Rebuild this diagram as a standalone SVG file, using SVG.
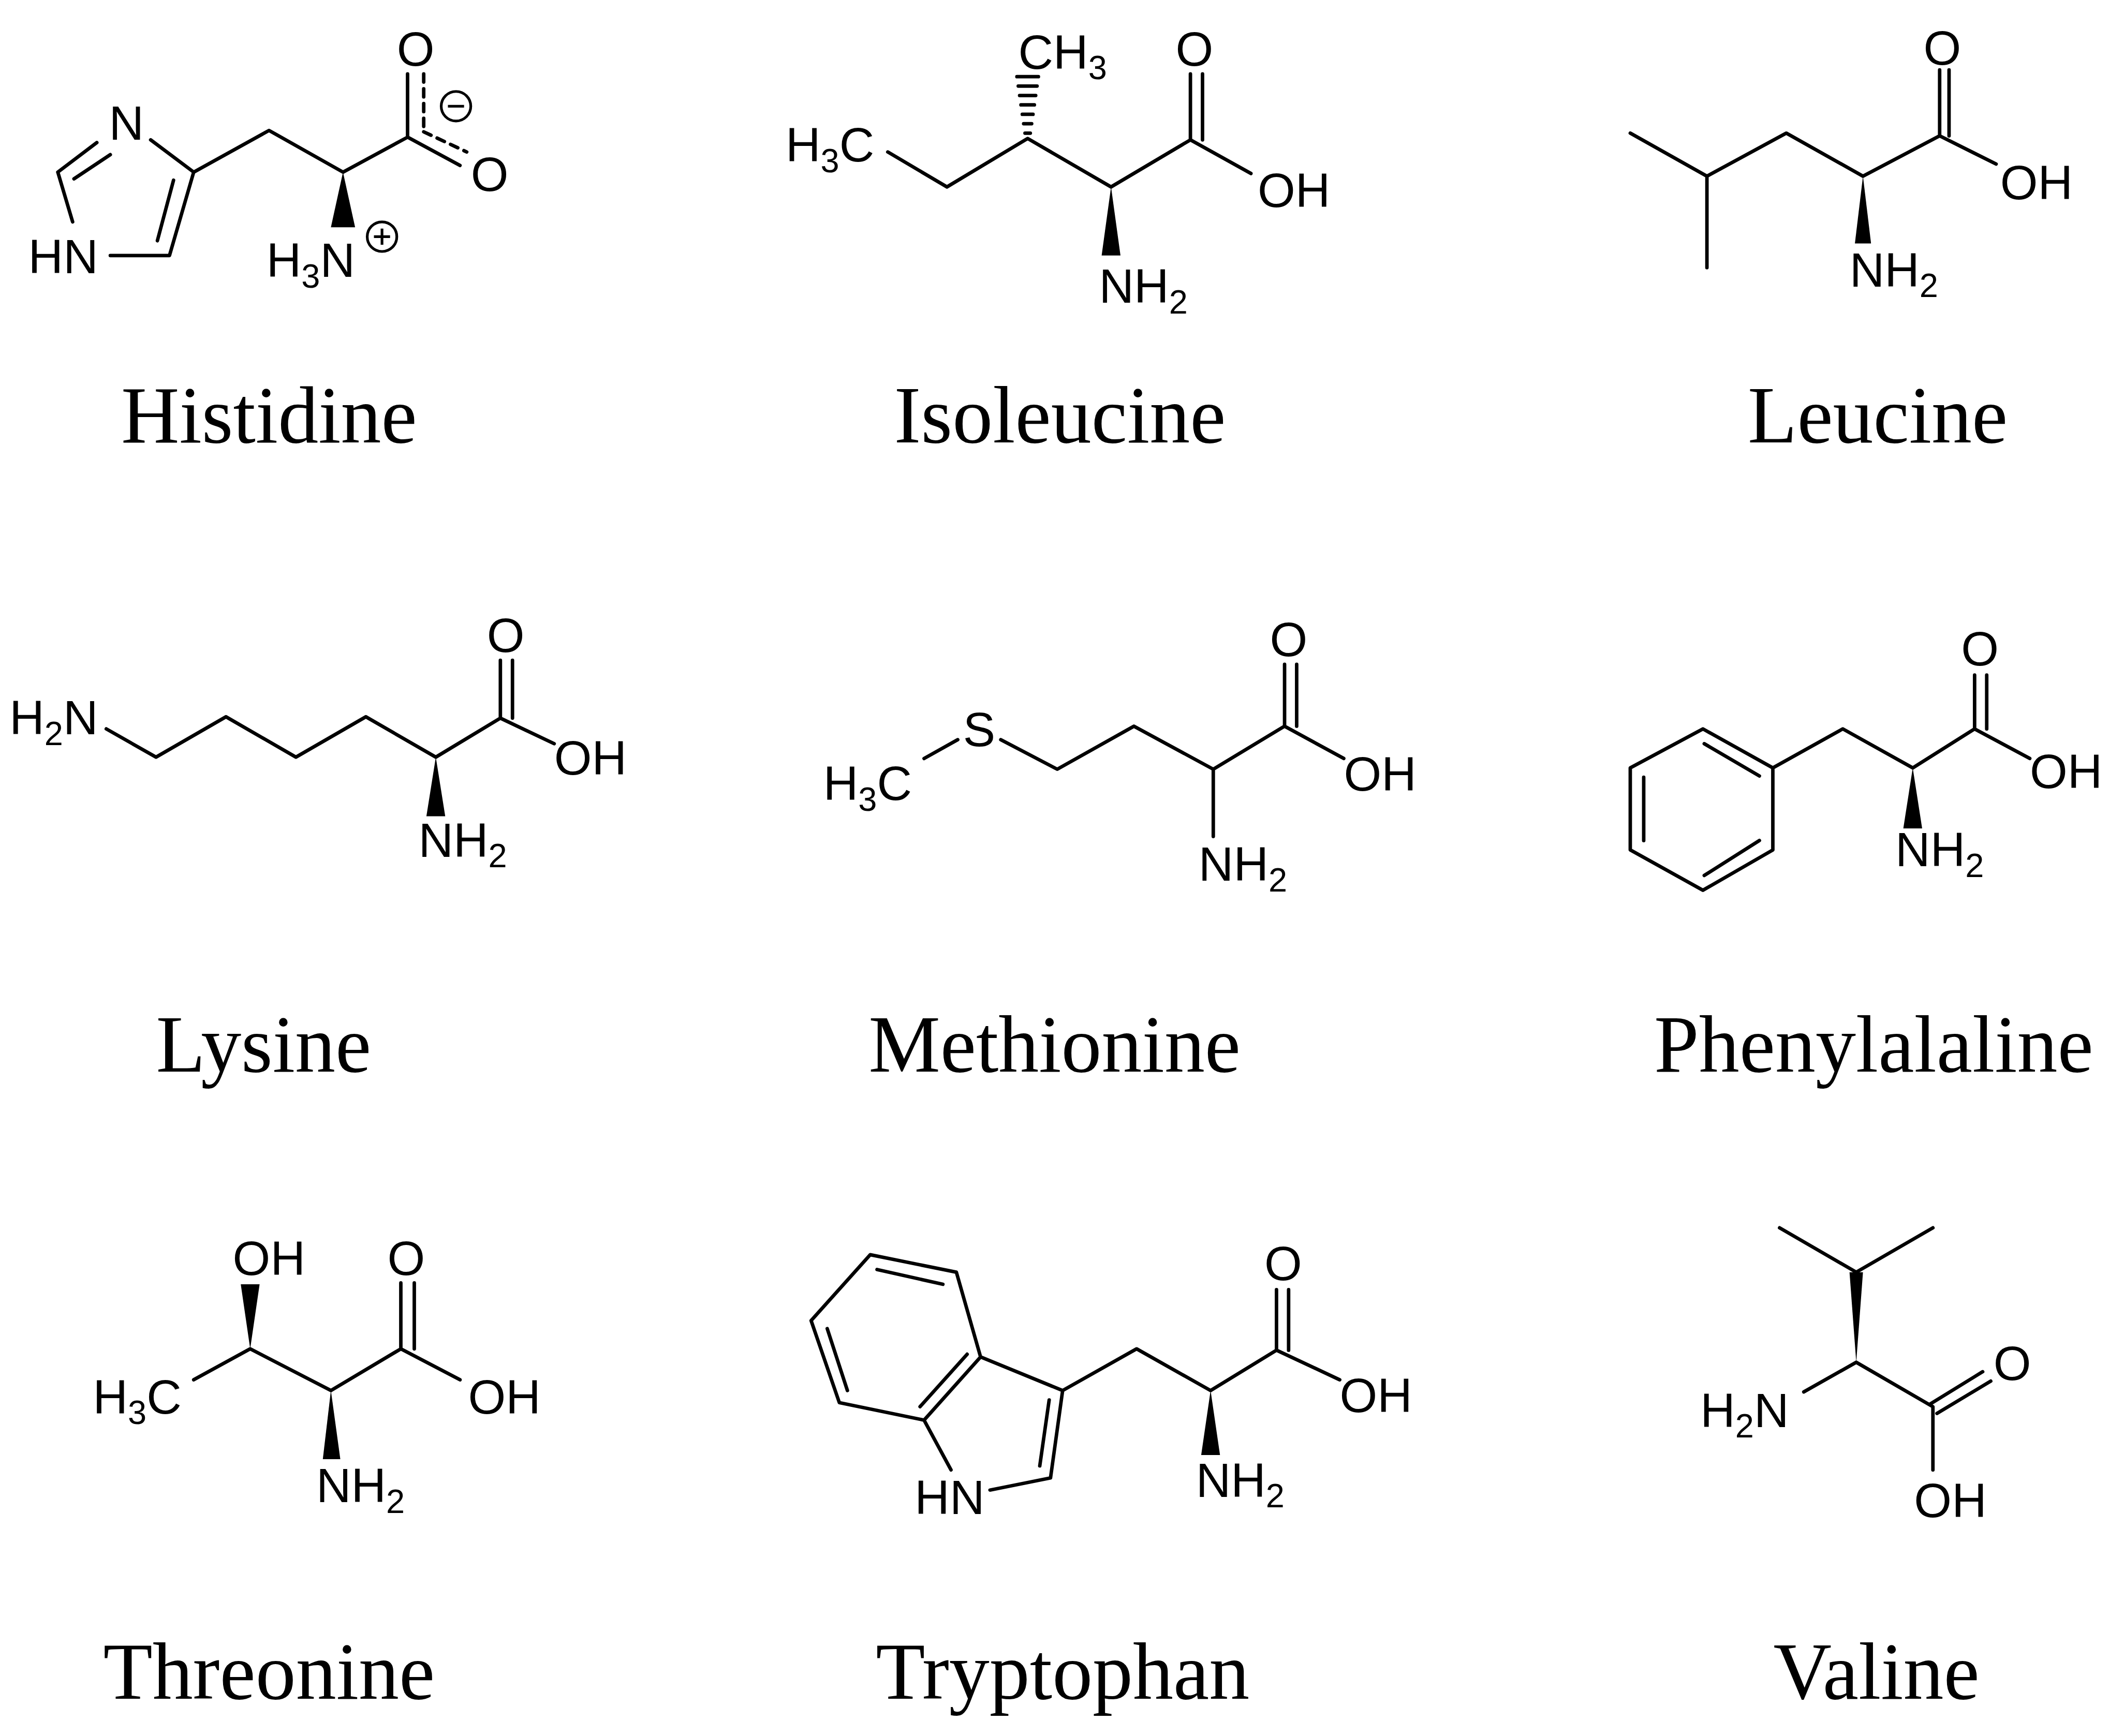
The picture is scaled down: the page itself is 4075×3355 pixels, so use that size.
<svg xmlns="http://www.w3.org/2000/svg" width="4075" height="3355" viewBox="0 0 4075 3355">
<style>
.b{stroke:#000;stroke-width:2.6;fill:none;stroke-linecap:round;stroke-linejoin:round}
.w{fill:#000;stroke:none}
.a{font-family:"Liberation Sans",Arial,sans-serif;font-size:36px;fill:#000;text-anchor:middle}
.s{font-size:25px}
.n{font-family:"Liberation Serif","Times New Roman",serif;font-size:60px;fill:#000;text-anchor:middle}
.c{stroke:#000;stroke-width:2;fill:none}
</style>
<rect width="4075" height="3355" fill="#fff"/>
<g transform="scale(2.599)">
<g id="histidine">
<g class="connectors">
<path class="b" d="M82,115 L55,133 M43,128 L54,165 M82,190 L126,190 L144,128 L112,104 M72,106 L43,128 M129,134 L117,179 M144,128 L200,97 L255,128 L303,102 L303,55 M303,102 L342,123"/>
<path class="b" d="M315,55 L315,98 M315,98 L347,113" stroke-dasharray="6,5"/>
<polygon class="w" points="255,128 246,169 264,169"/>
</g>
<text class="a" x="94" y="104">N</text>
<text class="a" x="47" y="203">HN</text>
<text class="a" x="231" y="206">H<tspan class="s" dy="8">3</tspan><tspan dy="-8">N</tspan></text>
<circle class="c" cx="284" cy="176" r="11"/><path class="c" d="M278,176 H290 M284,170 V182"/>
<circle class="c" cx="339" cy="79" r="11"/><path class="c" d="M333,79 H345"/>
<text class="a" x="309" y="49">O</text>
<text class="a" x="364" y="142">O</text>
<text class="n" x="200" y="329">Histidine</text>
</g>
<g id="isoleucine">
<g class="connectors">
<path class="b" d="M660,113 L704,139 L764,103 L826,139 L885,104 L885,55 M894,104 L894,55 M885,104 L930,129"/>
<polygon class="w" points="826,139 819,190 833,190"/>
<path class="b" d="M762,99 H766 M761,92 H767 M760,85 H768 M759,78 H769 M758,71 H770 M757,64 H771 M756,57 H772"/>
</g>
<text class="a" x="617" y="120">H<tspan class="s" dy="8">3</tspan><tspan dy="-8">C</tspan></text>
<text class="a" x="790" y="51">CH<tspan class="s" dy="8">3</tspan></text>
<text class="a" x="888" y="49">O</text>
<text class="a" x="962" y="154">OH</text>
<text class="a" x="850" y="225">NH<tspan class="s" dy="8">2</tspan></text>
<text class="n" x="788" y="329">Isoleucine</text>
</g>
<g id="leucine">
<g class="connectors">
<path class="b" d="M1212,99 L1269,131 L1269,199 M1269,131 L1328,99 L1385,131 L1442,101 L1442,52 M1449,101 L1449,52 M1442,101 L1484,122"/>
<polygon class="w" points="1385,131 1379,181 1391,181"/>
</g>
<text class="a" x="1444" y="48">O</text>
<text class="a" x="1514" y="148">OH</text>
<text class="a" x="1408" y="213">NH<tspan class="s" dy="8">2</tspan></text>
<text class="n" x="1396" y="329">Leucine</text>
</g>
<g id="lysine">
<g class="connectors">
<path class="b" d="M79,542 L116,563 L168,533 L220,563 L272,533 L324,563 L372,534 L372,491 M381,534 L381,491 M372,534 L412,553"/>
<polygon class="w" points="324,563 317,607 331,607"/>
</g>
<text class="a" x="40" y="546">H<tspan class="s" dy="8">2</tspan><tspan dy="-8">N</tspan></text>
<text class="a" x="376" y="485">O</text>
<text class="a" x="439" y="576">OH</text>
<text class="a" x="344" y="637">NH<tspan class="s" dy="8">2</tspan></text>
<text class="n" x="196" y="797">Lysine</text>
</g>
<g id="methionine">
<g class="connectors">
<path class="b" d="M687,564 L712,550 M744,550 L786,572 L843,540 L902,572 L955,540 L955,494 M964,540 L964,494 M955,540 L999,564 M902,572 L902,622"/>
</g>
<text class="a" x="645" y="595">H<tspan class="s" dy="8">3</tspan><tspan dy="-8">C</tspan></text>
<text class="a" x="728" y="555">S</text>
<text class="a" x="958" y="488">O</text>
<text class="a" x="1026" y="588">OH</text>
<text class="a" x="924" y="655">NH<tspan class="s" dy="8">2</tspan></text>
<text class="n" x="784" y="797">Methionine</text>
</g>
<g id="phenylalanine">
<g class="connectors">
<path class="b" d="M1266,542 L1318,571 L1318,632 L1266,662 L1212,632 L1212,571 Z M1267,553 L1308,577 M1222,578 L1222,625 M1267,651 L1308,625 M1318,571 L1370,542 L1422,571 L1468,542 L1468,502 M1477,542 L1477,502 M1468,542 L1509,564"/>
<polygon class="w" points="1422,571 1415,616 1429,616"/>
</g>
<text class="a" x="1472" y="495">O</text>
<text class="a" x="1536" y="586">OH</text>
<text class="a" x="1442" y="644">NH<tspan class="s" dy="8">2</tspan></text>
<text class="n" x="1393" y="797">Phenylalaline</text>
</g>
<g id="threonine">
<g class="connectors">
<path class="b" d="M144,1026 L186,1003 L246,1034 L298,1003 L298,954 M308,1003 L308,954 M298,1003 L342,1026"/>
<polygon class="w" points="186,1003 179,955 193,955"/>
<polygon class="w" points="246,1034 240,1085 253,1085"/>
</g>
<text class="a" x="200" y="948">OH</text>
<text class="a" x="102" y="1051">H<tspan class="s" dy="8">3</tspan><tspan dy="-8">C</tspan></text>
<text class="a" x="302" y="948">O</text>
<text class="a" x="375" y="1051">OH</text>
<text class="a" x="268" y="1117">NH<tspan class="s" dy="8">2</tspan></text>
<text class="n" x="200" y="1263">Threonine</text>
</g>
<g id="tryptophan">
<g class="connectors">
<path class="b" d="M647,933 L711,946 L729,1009 L687,1056 L624,1043 L603,982 Z M652,944 L701,955 M615,988 L630,1034 M684,1046 L719,1007 M729,1009 L790,1034 L781,1099 L736,1108 M707,1093 L687,1056 M780,1041 L773,1090 M790,1034 L845,1003 L900,1034 L949,1004 L949,959 M958,1004 L958,959 M949,1004 L996,1026"/>
<polygon class="w" points="900,1034 893,1082 907,1082"/>
</g>
<text class="a" x="706" y="1126">HN</text>
<text class="a" x="954" y="952">O</text>
<text class="a" x="1023" y="1050">OH</text>
<text class="a" x="922" y="1113">NH<tspan class="s" dy="8">2</tspan></text>
<text class="n" x="790" y="1263">Tryptophan</text>
</g>
<g id="valine">
<g class="connectors">
<path class="b" d="M1323,913 L1380,946 L1437,913 M1380,1013 L1341,1035 M1380,1013 L1437,1046 L1437,1093 M1435,1044 L1474,1020 M1440,1051 L1480,1027"/>
<polygon class="w" points="1380,1013 1375,946 1385,946"/>
</g>
<text class="a" x="1297" y="1061">H<tspan class="s" dy="8">2</tspan><tspan dy="-8">N</tspan></text>
<text class="a" x="1496" y="1026">O</text>
<text class="a" x="1450" y="1128">OH</text>
<text class="n" x="1395" y="1263">Valine</text>
</g>
</g>
</svg>
